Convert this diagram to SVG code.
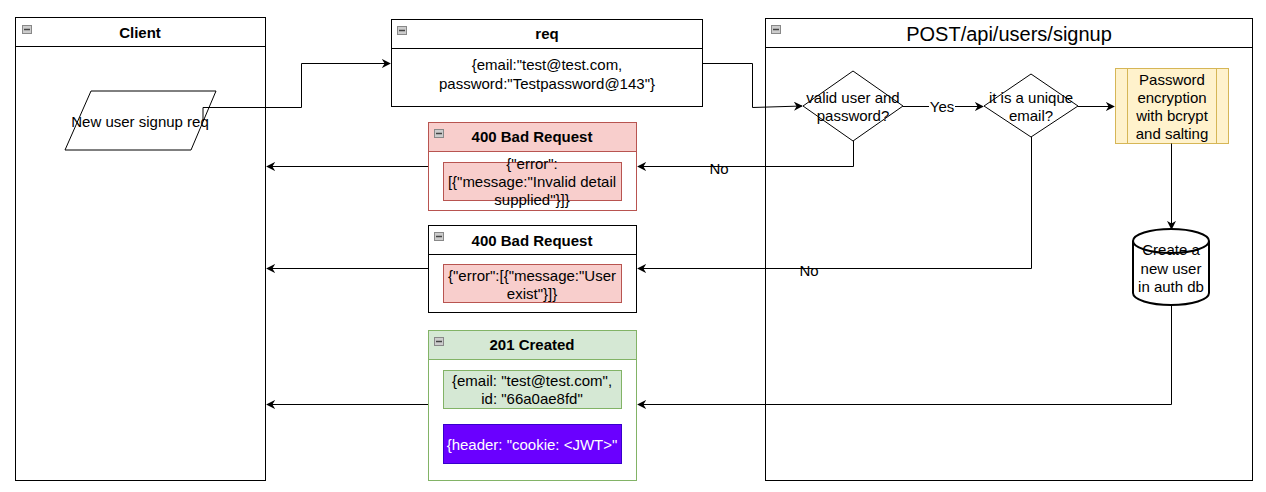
<svg xmlns="http://www.w3.org/2000/svg" width="1266" height="492" viewBox="0 0 1266 492">
<style>
text{font-family:"Liberation Sans",Arial,sans-serif;font-size:15px;fill:#000;text-anchor:middle;dominant-baseline:central}
.b{font-weight:bold}
.box{fill:#fff;stroke:#000;stroke-width:1}
.ln{fill:none;stroke:#000;stroke-width:1}
.icon{fill:#ccc;stroke:#888;stroke-width:1}
.ic{stroke:#444;stroke-width:1.5}
</style>
<defs>
<marker id="arr" viewBox="0 0 10 10" refX="9" refY="5" markerWidth="9" markerHeight="9" markerUnits="userSpaceOnUse" orient="auto">
<path d="M0,0 L10,5 L0,10 L3,5 z" fill="#000"/>
</marker>
</defs>

<g id="client">
<rect class="box" x="15.5" y="17.5" width="250" height="463"/>
<line class="ln" x1="15.5" y1="46.5" x2="265.5" y2="46.5"/>
<rect class="icon" x="22.5" y="25.5" width="9" height="8"/>
<line class="ic" x1="24" y1="29.5" x2="30" y2="29.5"/>
<text class="b" x="140" y="32">Client</text>
</g>

<g id="signup-req">
<polygon points="91,91 216,91 191,150 65,150" fill="#fff" stroke="#000"/>
<text x="140" y="121">New user signup req</text>
</g>

<g id="req">
<rect class="box" x="391.5" y="19.5" width="311" height="87"/>
<line class="ln" x1="391.5" y1="48.5" x2="702.5" y2="48.5"/>
<rect class="icon" x="397.5" y="26.5" width="9" height="8"/>
<line class="ic" x1="399" y1="30.5" x2="405" y2="30.5"/>
<text class="b" x="547" y="33">req</text>
<text x="547" y="64">{email:"test@test.com,</text>
<text x="547" y="83">password:"Testpassword@143"}</text>
</g>

<g id="bad1">
<rect x="428.5" y="122.5" width="208" height="88" fill="#fff" stroke="#b85450"/>
<rect x="428.5" y="122.5" width="208" height="29" fill="#f8cecc" stroke="#b85450"/>
<rect class="icon" x="434.5" y="129.5" width="9" height="8"/>
<line class="ic" x1="436" y1="133.5" x2="442" y2="133.5"/>
<text class="b" x="532" y="136">400 Bad Request</text>
<rect x="443.5" y="162.5" width="178" height="38" fill="#f8cecc" stroke="#b85450"/>
<text x="532" y="163">{"error":</text>
<text x="532" y="181">[{"message:"Invalid detail</text>
<text x="532" y="199">supplied"}]}</text>
</g>

<g id="bad2">
<rect class="box" x="428.5" y="225.5" width="208" height="87"/>
<line class="ln" x1="428.5" y1="254.5" x2="636.5" y2="254.5"/>
<rect class="icon" x="434.5" y="232.5" width="9" height="8"/>
<line class="ic" x1="436" y1="236.5" x2="442" y2="236.5"/>
<text class="b" x="532" y="240">400 Bad Request</text>
<rect x="443.5" y="264.5" width="178" height="38" fill="#f8cecc" stroke="#b85450"/>
<text x="532" y="275">{"error":[{"message:"User</text>
<text x="532" y="293">exist"}]}</text>
</g>

<g id="created">
<rect x="428.5" y="330.5" width="208" height="150" fill="#fff" stroke="#82b366"/>
<rect x="428.5" y="330.5" width="208" height="29" fill="#d5e8d4" stroke="#82b366"/>
<rect class="icon" x="434.5" y="337.5" width="9" height="8"/>
<line class="ic" x1="436" y1="341.5" x2="442" y2="341.5"/>
<text class="b" x="532" y="344">201 Created</text>
<rect x="443.5" y="370.5" width="178" height="38" fill="#d5e8d4" stroke="#82b366"/>
<text x="532" y="380">{email: "test@test.com",</text>
<text x="532" y="398">id: "66a0ae8fd"</text>
<rect x="443.5" y="424.5" width="178" height="39" fill="#6a00ff" stroke="#3700cc"/>
<text x="532" y="444" style="fill:#fff">{header: "cookie: &lt;JWT&gt;"</text>
</g>

<g id="post">
<rect class="box" x="765.5" y="18.5" width="487" height="462"/>
<line class="ln" x1="765.5" y1="47.5" x2="1252.5" y2="47.5"/>
<rect class="icon" x="771.5" y="25.5" width="9" height="8"/>
<line class="ic" x1="773" y1="29.5" x2="779" y2="29.5"/>
<text x="1009" y="34" style="font-size:20px">POST/api/users/signup</text>
</g>

<g id="valid">
<polygon points="853,71 903,106 853,141 803,106" fill="#fff" stroke="#000"/>
<text x="853" y="97">valid user and</text>
<text x="853" y="115">password?</text>
</g>

<g id="unique">
<polygon points="1031,74 1078,106 1031,137 984,106" fill="#fff" stroke="#000"/>
<text x="1031" y="97">it is a unique</text>
<text x="1031" y="115">email?</text>
</g>

<g id="encrypt">
<rect x="1115.5" y="68.5" width="113" height="75" fill="#fff2cc" stroke="#d6b656"/>
<line x1="1127.5" y1="68.5" x2="1127.5" y2="143.5" stroke="#d6b656"/>
<line x1="1216.5" y1="68.5" x2="1216.5" y2="143.5" stroke="#d6b656"/>
<text x="1172" y="79">Password</text>
<text x="1172" y="97">encryption</text>
<text x="1172" y="115">with bcrypt</text>
<text x="1172" y="133">and salting</text>
</g>

<g id="db">
<path d="M1133,241 A38,12 0 0 1 1209,241 L1209,293 A38,12 0 0 1 1133,293 Z" fill="#fff" stroke="#000" stroke-width="2"/>
<path d="M1133,241 A38,12 0 0 0 1209,241" fill="none" stroke="#000" stroke-width="2"/>
<text x="1171" y="249">Create a</text>
<text x="1171" y="268">new user</text>
<text x="1171" y="286">in auth db</text>
</g>

<g id="connectors">
<polyline class="ln" points="203,120 203,107.5 301.5,107.5 301.5,63.5 390,63.5" marker-end="url(#arr)"/>
<polyline class="ln" points="703,63.5 752.5,63.5 752.5,107.5 802,106" marker-end="url(#arr)"/>
<line class="ln" x1="903" y1="106.5" x2="983" y2="106.5" marker-end="url(#arr)"/>
<line class="ln" x1="1078" y1="106.5" x2="1114" y2="106.5" marker-end="url(#arr)"/>
<line class="ln" x1="1171.5" y1="143.5" x2="1171.5" y2="229" marker-end="url(#arr)"/>
<polyline class="ln" points="853.5,141 853.5,166.5 638,166.5" marker-end="url(#arr)"/>
<polyline class="ln" points="1031.5,137 1031.5,268.5 638,268.5" marker-end="url(#arr)"/>
<polyline class="ln" points="1171.5,305 1171.5,404.5 638,404.5" marker-end="url(#arr)"/>
<line class="ln" x1="428" y1="166.5" x2="267" y2="166.5" marker-end="url(#arr)"/>
<line class="ln" x1="428" y1="268.5" x2="267" y2="268.5" marker-end="url(#arr)"/>
<line class="ln" x1="428" y1="404.5" x2="267" y2="404.5" marker-end="url(#arr)"/>
<rect x="929" y="98" width="26" height="16" fill="#fff"/>
<text x="942" y="106">Yes</text>
<text x="719" y="168">No</text>
<text x="809" y="270">No</text>
</g>
</svg>
